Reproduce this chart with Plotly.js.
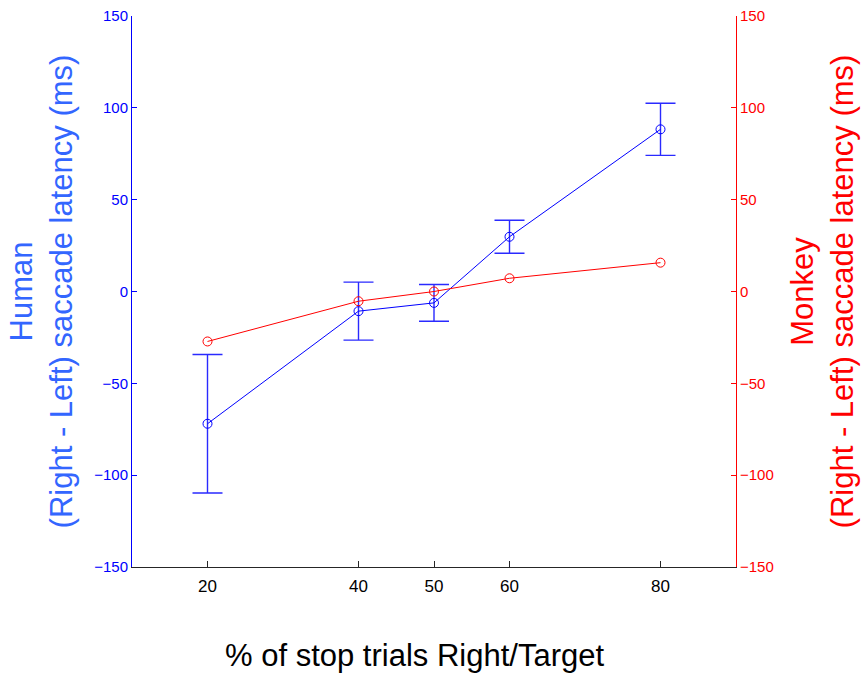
<!DOCTYPE html>
<html>
<head>
<meta charset="utf-8">
<script src="https://cdn.plot.ly/plotly-3.0.1.min.js"></script>
<style>html,body{margin:0;padding:0;background:#fff;}#chart{width:863px;height:673px;}</style>
</head>
<body>
<div id="chart"></div>
<script>
// Data
const stopPct = [20, 40, 50, 60, 80];
const humanLatency = [-72.0, -10.7, -6.2, 29.8, 88.3];
const humanError = [37.7, 15.8, 10.0, 9.0, 14.2];
const monkeyLatency = [-27.2, -5.3, 0.0, 7.2, 15.7];
const xTickVals = [20, 40, 50, 60, 80];
const yTickVals = [-150, -100, -50, 0, 50, 100, 150];

const FONT = 'Liberation Sans, Arial, Helvetica, sans-serif';

const human = {
  x: stopPct, y: humanLatency, type: 'scatter', mode: 'lines+markers',
  name: 'Human', yaxis: 'y',
  line: {color: '#0000ff', width: 1},
  marker: {symbol: 'circle-open', size: 9, color: '#0000ff', line: {width: 1}},
  error_y: {type: 'data', array: humanError, visible: true, color: '#2a2aff', thickness: 1.4, width: 15},
  showlegend: false
};
const monkey = {
  x: stopPct, y: monkeyLatency, type: 'scatter', mode: 'lines+markers',
  name: 'Monkey', yaxis: 'y2',
  line: {color: '#ff0000', width: 1},
  marker: {symbol: 'circle-open', size: 9, color: '#ff0000', line: {width: 1}},
  showlegend: false
};

const layout = {
  width: 863, height: 673,
  margin: {l: 132, r: 127, t: 16, b: 106},
  paper_bgcolor: '#ffffff', plot_bgcolor: '#ffffff',
  font: {family: FONT},
  xaxis: {
    range: [10, 90], tickvals: xTickVals, ticktext: xTickVals.map(String),
    showgrid: false, zeroline: false,
    showline: true, linecolor: '#262626', linewidth: 1,
    ticks: 'inside', ticklen: 6, tickcolor: '#262626',
    ticklabelstandoff: 4,
    tickfont: {family: FONT, size: 17, color: '#000000'}
  },
  yaxis: {
    range: [-150, 150], tickvals: yTickVals,
    showgrid: false, zeroline: false,
    showline: true, linecolor: '#0000ff', linewidth: 1,
    ticks: 'inside', ticklen: 5, tickcolor: '#0000ff',
    tickfont: {family: FONT, size: 15, color: '#0000ff'},
    title: {text: 'Human<br>(Right - Left) saccade latency (ms)', font: {family: FONT, size: 31, color: '#3366ff'}, standoff: 12}
  },
  yaxis2: {
    range: [-150, 150], tickvals: yTickVals, overlaying: 'y', side: 'right',
    showgrid: false, zeroline: false,
    showline: true, linecolor: '#ff0000', linewidth: 1,
    ticks: 'inside', ticklen: 5, tickcolor: '#ff0000',
    tickfont: {family: FONT, size: 15, color: '#ff0000'},
    title: {text: 'Monkey<br>(Right - Left) saccade latency (ms)', font: {family: FONT, size: 31, color: '#ff0000'}, standoff: 18}
  },
  annotations: [{
    text: '% of stop trials Right/Target',
    xref: 'paper', yref: 'paper', x: (414 - 132) / 604, y: 0,
    xanchor: 'center', yanchor: 'middle', yshift: -88, showarrow: false,
    font: {family: FONT, size: 31, color: '#000000'}
  }]
};

Plotly.newPlot('chart', [human, monkey], layout, {displayModeBar: false, staticPlot: true});
</script>
</body>
</html>
